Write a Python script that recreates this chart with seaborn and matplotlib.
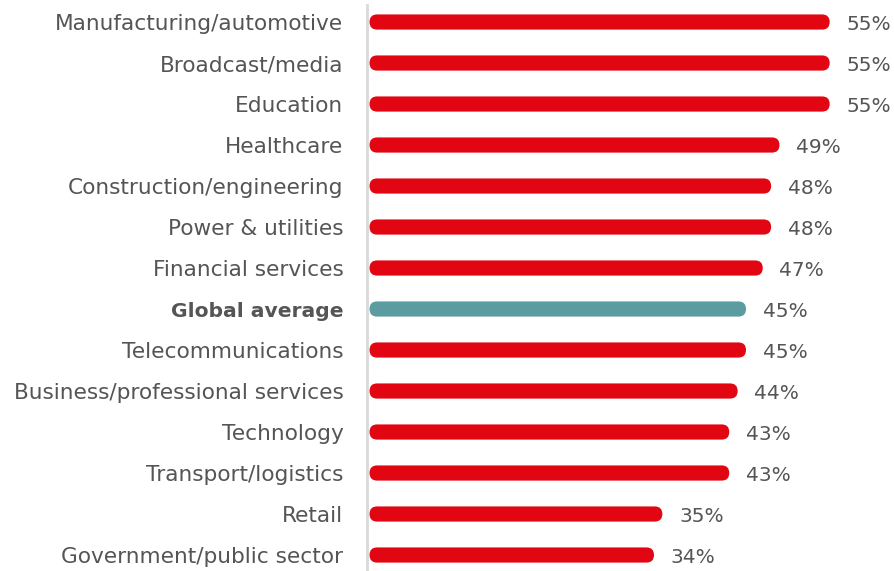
import matplotlib
matplotlib.use("Agg")
import matplotlib.pyplot as plt
from matplotlib.patches import FancyBboxPatch
import seaborn as sns
import pandas as pd

sectors = [
    "Manufacturing/automotive",
    "Broadcast/media",
    "Education",
    "Healthcare",
    "Construction/engineering",
    "Power & utilities",
    "Financial services",
    "Global average",
    "Telecommunications",
    "Business/professional services",
    "Technology",
    "Transport/logistics",
    "Retail",
    "Government/public sector",
]
shares = [55, 55, 55, 49, 48, 48, 47, 45, 45, 44, 43, 43, 35, 34]
highlight = "Global average"

RED = "#E20613"
TEAL = "#5A9C9F"
TEXT = "#555555"
LABEL_FS = 15.6
VALUE_FS = 14.5

sns.set_theme(style="white")
plt.rcParams["font.family"] = ["DejaVu Sans"]

df = pd.DataFrame({"sector": sectors, "share": shares})
palette = {s: (TEAL if s == highlight else RED) for s in sectors}

fig = plt.figure(figsize=(8.94, 5.71), dpi=100)
ax = fig.add_axes([367 / 894, 0, (869 - 367) / 894, 566 / 571])

sns.barplot(data=df, y="sector", x="share", hue="sector", palette=palette,
            order=sectors, width=0.37, legend=False, ax=ax, saturation=1)

ax.set_xlim(-0.3, 59.7)
ax.set_ylim(13.39, -0.415)
ax.set_xlabel("")
ax.set_ylabel("")
ax.set_xticks([])
for side in ["top", "right", "bottom"]:
    ax.spines[side].set_visible(False)
ax.spines["left"].set_color("#D9D9D9")
ax.spines["left"].set_linewidth(2)
ax.tick_params(axis="y", length=0, pad=17, labelsize=LABEL_FS, labelcolor=TEXT)
for lbl in ax.get_yticklabels():
    if lbl.get_text() == highlight:
        lbl.set_fontweight("bold")
        lbl.set_fontsize(14.6)

# Swap the square bars for pill-shaped ones with round ends
fig.canvas.draw()
inv = ax.transData.inverted()
(x0, y0), (x1, y1) = inv.transform([(0, 0), (1, 1)])
aspect = abs(y1 - y0) / abs(x1 - x0)
for p in list(ax.patches):
    x, y, w, h = p.get_x(), p.get_y(), p.get_width(), p.get_height()
    r = h / aspect / 2
    pill = FancyBboxPatch((x, y), w, h,
                          boxstyle=f"round,pad=0,rounding_size={r}",
                          mutation_aspect=aspect,
                          facecolor=p.get_facecolor(), edgecolor="none",
                          zorder=p.get_zorder())
    p.remove()
    ax.add_patch(pill)

for i, v in enumerate(shares):
    ax.annotate(f"{v}%", xy=(v, i), xytext=(12, -2), textcoords="offset points",
                va="center", ha="left", fontsize=VALUE_FS, color=TEXT)

fig.savefig("out.png", dpi=100)
